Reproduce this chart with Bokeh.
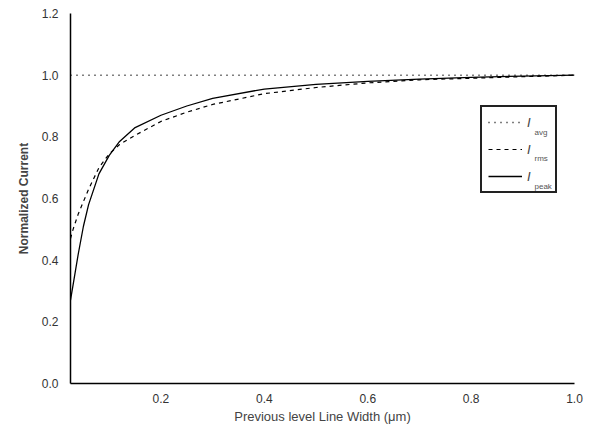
from bokeh.plotting import figure
from bokeh.models import Range1d, FixedTicker, Legend, LegendItem, Label, NumeralTickFormatter
from bokeh.embed import file_html
from bokeh.resources import INLINE

x = [0.025, 0.03, 0.04, 0.05, 0.06, 0.08, 0.1, 0.12, 0.15, 0.2, 0.25, 0.3, 0.4, 0.5, 0.6, 0.7, 0.8, 0.9, 1.0]
i_peak = [0.27, 0.32, 0.42, 0.51, 0.58, 0.68, 0.74, 0.785, 0.83, 0.87, 0.90, 0.925, 0.955, 0.97, 0.98, 0.987, 0.993, 0.997, 1.0]
i_rms = [0.47, 0.50, 0.55, 0.59, 0.63, 0.70, 0.745, 0.775, 0.805, 0.85, 0.88, 0.905, 0.94, 0.96, 0.975, 0.985, 0.99, 0.995, 1.0]
i_avg = [1.0] * len(x)
x_ticks = [0.2, 0.4, 0.6, 0.8, 1.0]
y_ticks = [0.0, 0.2, 0.4, 0.6, 0.8, 1.0, 1.2]

FONT = "Liberation Sans"

p = figure(frame_width=504, frame_height=370, output_backend="svg", toolbar_location=None,
           x_range=Range1d(0.025, 1.0), y_range=Range1d(0.0, 1.2),
           min_border_left=70, min_border_right=14, min_border_top=13, min_border_bottom=40)
p.outline_line_color = None
p.grid.visible = False
p.background_fill_color = "white"
p.border_fill_color = "white"

r_avg = p.line(x, i_avg, line_color="black", line_width=1.5, line_dash="1 5")
r_rms = p.line(x, i_rms, line_color="black", line_width=1.2, line_dash="4 4")
r_peak = p.line(x, i_peak, line_color="black", line_width=1.3)

for ax in (p.xaxis[0], p.yaxis[0]):
    ax.axis_line_color = "black"
    ax.axis_line_width = 1.5
    ax.major_tick_line_color = None
    ax.minor_tick_line_color = None
    ax.major_label_text_font = FONT
    ax.major_label_text_font_size = "12px"
    ax.major_label_text_color = "#333333"
    ax.formatter = NumeralTickFormatter(format="0.0")

p.xaxis.ticker = FixedTicker(ticks=x_ticks)
p.yaxis.ticker = FixedTicker(ticks=y_ticks)
p.xaxis.major_label_standoff = 4
p.yaxis.major_label_standoff = 6

p.xaxis.axis_label = "Previous level Line Width (\u03bcm)"
p.xaxis.axis_label_text_font = FONT
p.xaxis.axis_label_text_font_size = "13px"
p.xaxis.axis_label_text_font_style = "normal"
p.xaxis.axis_label_standoff = 3
p.yaxis.axis_label = "Normalized Current"
p.yaxis.axis_label_text_font = FONT
p.yaxis.axis_label_text_font_size = "12px"
p.yaxis.axis_label_text_font_style = "bold"
p.yaxis.axis_label_standoff = 8

legend = Legend(items=[LegendItem(label="I", renderers=[r_avg]),
                       LegendItem(label="I", renderers=[r_rms]),
                       LegendItem(label="I", renderers=[r_peak])],
                location=(410, 190), orientation="vertical")
legend.border_line_color = "#222222"
legend.border_line_alpha = 1
legend.border_line_width = 2
legend.background_fill_alpha = 0
legend.glyph_width = 34
legend.glyph_height = 18
legend.spacing = 9
legend.padding = 6
legend.margin = 0
legend.label_text_font = FONT
legend.label_text_font_style = "italic"
legend.label_text_font_size = "13px"
legend.label_standoff = 5
legend.label_width = 22
legend.label_height = 18
p.add_layout(legend)

for txt, yy in (("avg", 247), ("rms", 221), ("peak", 193)):
    p.add_layout(Label(x=464, y=yy, x_units="screen", y_units="screen", text=txt,
                       text_font=FONT, text_font_size="8px", text_color="#555555",
                       level="overlay"))

open("out.html", "w").write(file_html(p, INLINE))
